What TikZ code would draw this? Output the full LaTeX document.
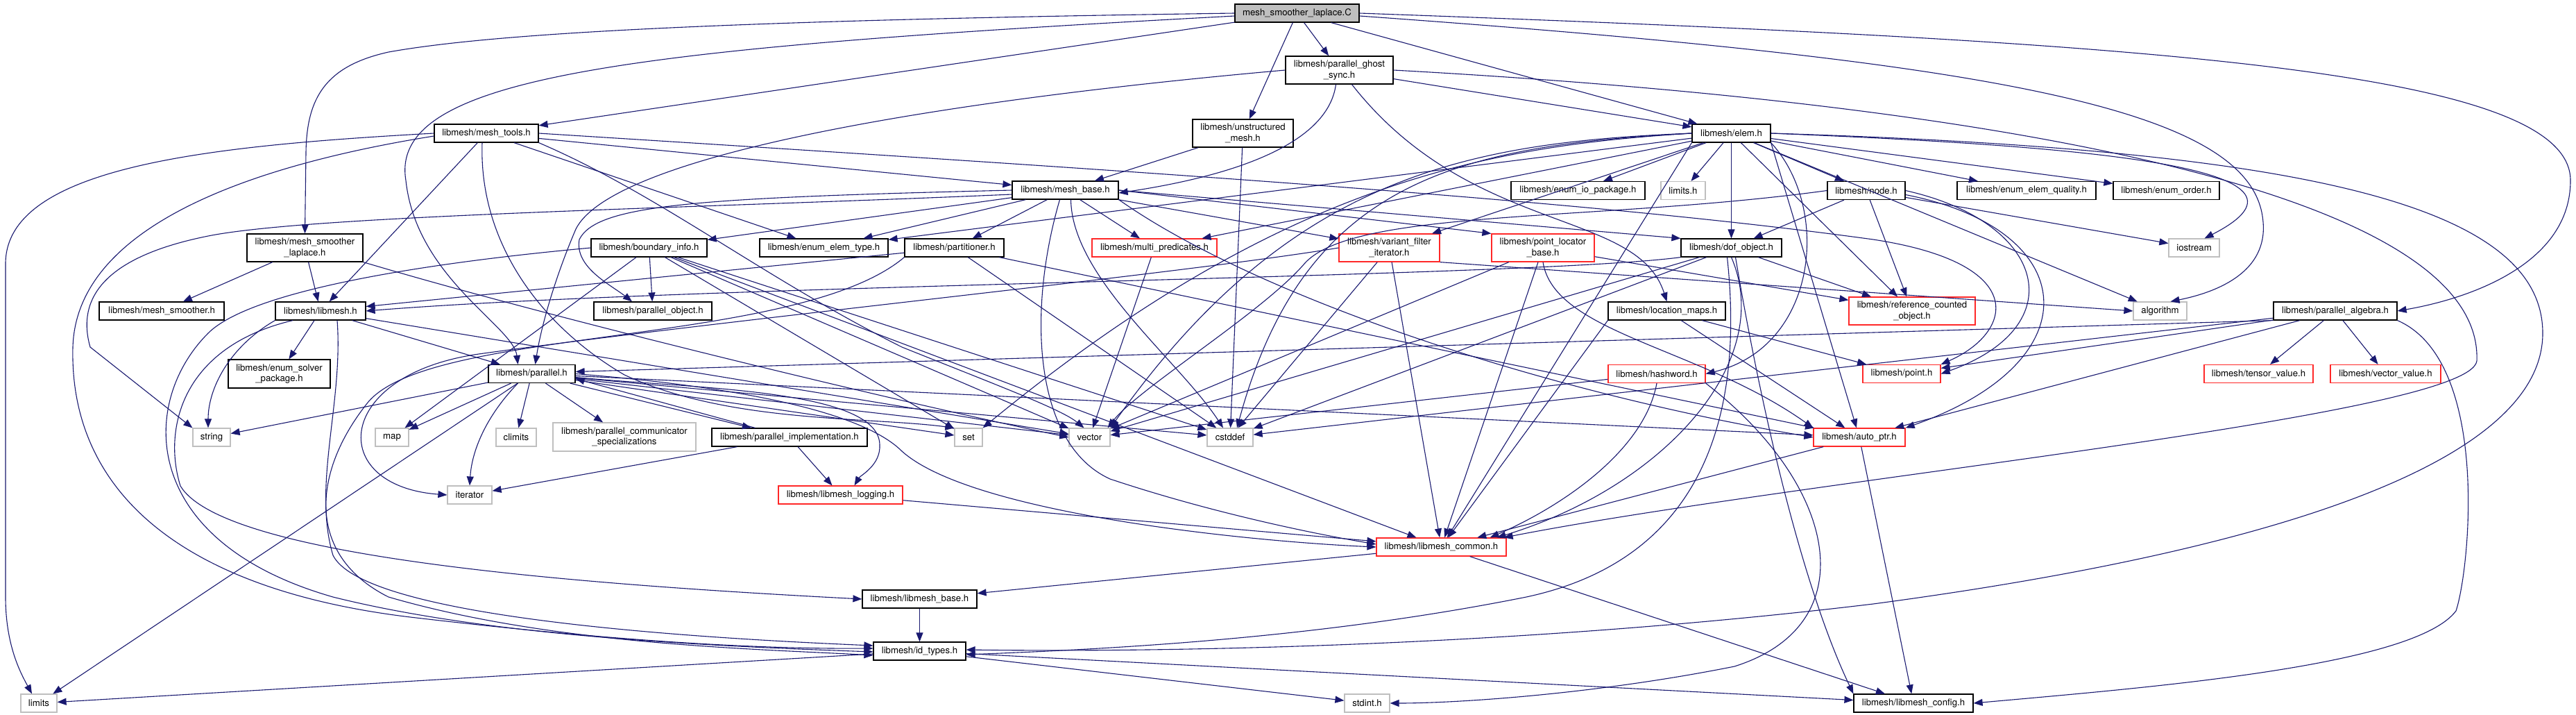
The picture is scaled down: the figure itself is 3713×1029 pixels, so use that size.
\documentclass[tikz,border=0pt]{standalone}
\usepackage{fontspec}
\setmainfont{TeX Gyre Heros}
\usetikzlibrary{arrows.meta}
\definecolor{edgecol}{HTML}{191970}
\definecolor{grayb}{HTML}{BFBFBF}
\definecolor{redb}{HTML}{FF2828}
\newcommand{\nodefnt}{\fontsize{13.2}{15.5}\selectfont}
\begin{document}
\begin{tikzpicture}[x=1pt,y=-1pt,
  nb/.style={draw=black, line width=1.2pt, fill=white, inner sep=0pt, minimum height=26pt, font=\nodefnt},
  nr/.style={nb, draw=redb},
  ng/.style={nb, draw=grayb},
  two/.style={minimum height=40pt, align=center},
  e/.style={draw=edgecol, line width=1.1pt, -{Triangle[length=13pt,width=10pt]}}]
\useasboundingbox (0,0) rectangle (3713,1029);
\fill[white] (0,0) rectangle (3713,1029);

% ---------------- nodes ----------------
\node[nb, fill=grayb, minimum width=179pt] (cfile) at (1869.5,19) {mesh\_smoother\_laplace.C};
\node[nb, two, minimum width=155pt] (pgs) at (1930.5,101) {libmesh/parallel\_ghost\\\_sync.h};
\node[nb, two, minimum width=145pt] (unst) at (1791.5,192) {libmesh/unstructured\\\_mesh.h};
\node[nb, minimum width=150pt] (mtools) at (701,192) {libmesh/mesh\_tools.h};
\node[nb, minimum width=113pt] (elem) at (2495.5,192) {libmesh/elem.h};
\node[nb, minimum width=153pt] (mbase) at (1535.5,274) {libmesh/mesh\_base.h};
\node[nb, two, minimum width=167pt] (mslh) at (439.5,357) {libmesh/mesh\_smoother\\\_laplace.h};
\node[nb, minimum width=167pt] (binfo) at (935.5,357) {libmesh/boundary\_info.h};
\node[nb, minimum width=185pt] (eet) at (1187.5,357) {libmesh/enum\_elem\_type.h};
\node[nb, minimum width=143pt] (part) at (1375.5,357) {libmesh/partitioner.h};
\node[nr, minimum width=180pt] (mpred) at (1664,357) {libmesh/multi\_predicates.h};
\node[nr, two, minimum width=145pt] (vfi) at (2002.5,357) {libmesh/variant\_filter\\\_iterator.h};
\node[nr, two, minimum width=148pt] (plb) at (2224,357) {libmesh/point\_locator\\\_base.h};
\node[nb, minimum width=145pt] (dof) at (2495.5,357) {libmesh/dof\_object.h};
\node[nb, minimum width=193pt] (eio) at (2274.5,274.5) {libmesh/enum\_io\_package.h};
\node[ng, minimum width=64pt] (limitsh) at (2426,274.5) {limits.h};
\node[nb, minimum width=112pt] (node) at (2690,274.5) {libmesh/node.h};
\node[nb, minimum width=200pt] (eeq) at (2921,274.5) {libmesh/enum\_elem\_quality.h};
\node[nb, minimum width=153pt] (eord) at (3122.5,274.5) {libmesh/enum\_order.h};
\node[ng, minimum width=73pt] (iostream) at (3162.5,357) {iostream};
\node[nr, two, minimum width=182pt] (refc) at (2756,448) {libmesh/reference\_counted\\\_object.h};
\node[ng, minimum width=77pt] (algorithm) at (3113.5,448) {algorithm};
\node[nb, minimum width=178pt] (palg) at (3366,448) {libmesh/parallel\_algebra.h};
\node[nb, minimum width=169pt] (lmaps) at (2402.5,448) {libmesh/location\_maps.h};
\node[nb, minimum width=130pt] (libmeshh) at (462,448) {libmesh/libmesh.h};
\node[nb, minimum width=180pt] (msmoother) at (233,448) {libmesh/mesh\_smoother.h};
\node[nb, minimum width=170pt] (pobj) at (941,448) {libmesh/parallel\_object.h};
\node[nb, two, minimum width=147pt, minimum height=41pt] (esp) at (402.5,538.5) {libmesh/enum\_solver\\\_package.h};
\node[nb, minimum width=125pt] (parallel) at (766.5,538.5) {libmesh/parallel.h};
\node[ng, minimum width=54pt] (string) at (305,630) {string};
\node[ng, minimum width=48pt] (map) at (565,630) {map};
\node[ng, minimum width=58pt] (climits) at (744,630) {climits};
\node[ng, two, minimum width=206pt, minimum height=41pt] (pcs) at (900,629.5) {libmesh/parallel\_communicator\\\_specializations};
\node[nb, minimum width=224pt] (pimpl) at (1138,630) {libmesh/parallel\_implementation.h};
\node[ng, minimum width=40pt] (set) at (1396,630) {set};
\node[ng, minimum width=59pt] (vector) at (1570.5,630) {vector};
\node[ng, minimum width=66pt] (cstddef) at (1773,630) {cstddef};
\node[nr, minimum width=140pt] (hashword) at (2388,538.5) {libmesh/hashword.h};
\node[nr, minimum width=132pt] (autoptr) at (2680,630) {libmesh/auto\_ptr.h};
\node[nr, minimum width=112pt] (point) at (2741,538.5) {libmesh/point.h};
\node[nr, minimum width=157pt] (tensor) at (3255.5,538.5) {libmesh/tensor\_value.h};
\node[nr, minimum width=159pt] (vecval) at (3438.5,538.5) {libmesh/vector\_value.h};
\node[ng, minimum width=64pt] (iterator) at (677,713) {iterator};
\node[nr, minimum width=179pt] (logging) at (1211.5,713) {libmesh/libmesh\_logging.h};
\node[nr, minimum width=187pt] (common) at (2077.5,788) {libmesh/libmesh\_common.h};
\node[nb, minimum width=165pt] (lbase) at (1325.5,863) {libmesh/libmesh\_base.h};
\node[nb, minimum width=133pt] (idtypes) at (1325.5,938) {libmesh/id\_types.h};
\node[ng, minimum width=52pt] (limits) at (56,1013) {limits};
\node[ng, minimum width=65pt] (stdint) at (1970.5,1013) {stdint.h};
\node[nb, minimum width=172pt] (config) at (2758,1013) {libmesh/libmesh\_config.h};

% ---------------- edges ----------------
% mesh_smoother_laplace.C
\draw[e] (cfile.west) .. controls (1000,30) and (700,50) .. (560,75) .. controls (470,95) and (442,140) .. (441,220) -- (mslh.north);
\draw[e] (cfile) -- (mtools);
\draw[e] (cfile) -- (unst);
\draw[e] (cfile) -- (pgs);
\draw[e] (cfile) -- (elem);
\draw[e] ([yshift=-4pt]cfile.west) .. controls (900,70) and (560,110) .. (585,260) .. controls (600,400) and (740,470) .. ([xshift=-20pt]parallel.north);
\draw[e] (cfile.east) .. controls (3100,60) and (3705,100) .. (3705,260) .. controls (3705,380) and (3560,430) .. (palg.east);
\draw[e] ([yshift=-4pt]cfile.east) .. controls (2900,90) and (3250,160) .. (3262,320) .. controls (3268,390) and (3200,420) .. ([xshift=15pt]algorithm.north);

% parallel_ghost_sync.h
\draw[e] (pgs) -- (elem);
\draw[e] (pgs.west) .. controls (1300,150) and (880,230) .. (830,330) .. controls (800,400) and (780,470) .. ([xshift=5pt]parallel.north);
\draw[e] ([xshift=-5pt]pgs.south) .. controls (1915,200) and (1800,250) .. ([yshift=-4pt]mbase.east);
\draw[e] ([xshift=18pt]pgs.south) .. controls (2120,340) and (2360,300) .. (lmaps.north);
\draw[e] (pgs.east) .. controls (2900,150) and (3580,280) .. (3570,520) .. controls (3560,600) and (2600,690) .. ([xshift=-4pt]common.north east);

% unstructured_mesh.h
\draw[e] (unst) -- (mbase);
\draw[e] (unst) -- (cstddef);

% mesh_smoother_laplace.h
\draw[e] (mslh) -- (msmoother);
\draw[e] (mslh) -- (libmeshh);
\draw[e] (mslh.south east) .. controls (800,460) and (1300,580) .. (vector.west);

% mesh_tools.h
\draw[e] (mtools.west) .. controls (300,210) and (8,240) .. (8,380) -- (8,860) .. controls (8,930) and (30,970) .. ([xshift=-10pt]limits.north);
\draw[e] ([yshift=-4pt]mtools.west) .. controls (350,240) and (110,330) .. (105,500) .. controls (100,700) and (250,850) .. (600,890) .. controls (900,925) and (1100,935) .. ([yshift=4pt]idtypes.west);
\draw[e] (mtools) -- (libmeshh);
\draw[e] ([xshift=-6pt]mtools.south) .. controls (690,350) and (780,470) .. (900,540) .. controls (1050,610) and (1250,600) .. (set.north west);
\draw[e] (mtools.south east) .. controls (950,280) and (1100,400) .. (1300,500) .. controls (1450,560) and (1530,590) .. ([xshift=-8pt]vector.north);
\draw[e] (mtools) -- (eet);
\draw[e] (mtools) -- (mbase);
\draw[e] (mtools.east) .. controls (1700,250) and (2300,290) .. (2700,345) .. controls (2930,380) and (2900,480) .. (point.north east);

% elem.h
\draw[e] (elem.south west) -- (common);
\draw[e] (elem) -- (dof);
\draw[e] (elem.east) .. controls (3300,215) and (3665,290) .. (3665,480) .. controls (3665,660) and (3300,790) .. (2700,870) .. controls (2200,930) and (1700,940) .. ([yshift=2pt]idtypes.east);
\draw[e] (elem) -- (refc);
\draw[e] (elem) -- (node);
\draw[e] (elem) -- (eet);
\draw[e] (elem) -- (eeq);
\draw[e] (elem) -- (eord);
\draw[e] (elem) -- (eio);
\draw[e] (elem.south east) -- (autoptr);
\draw[e] (elem) -- (mpred);
\draw[e] (elem) -- (vfi);
\draw[e] (elem) -- (algorithm);
\draw[e] (elem.west) .. controls (2100,210) and (1880,260) .. ([xshift=10pt]cstddef.north);
\draw[e] (elem.east) .. controls (3000,210) and (3380,240) .. ([xshift=15pt]iostream.north);
\draw[e] (elem) -- (limitsh);
\draw[e] (elem.west) .. controls (2150,210) and (1850,260) .. (set.north east);
\draw[e] (elem.west) .. controls (2120,205) and (1860,250) .. (vector.north east);
\draw[e] (elem.south east) .. controls (2640,300) and (2620,500) .. (hashword.east);

% mesh_base.h
\draw[e] (mbase) -- (binfo);
\draw[e] (mbase.east) -- (dof.north west);
\draw[e] (mbase) -- (eet);
\draw[e] ([xshift=-8pt]mbase.south) .. controls (1480,450) and (1490,640) .. (1600,690) .. controls (1750,740) and (1900,770) .. ([yshift=4pt]common.west);
\draw[e] (mbase) -- (mpred);
\draw[e] (mbase) -- (part);
\draw[e] (mbase.east) -- (plb.north west);
\draw[e] (mbase) -- (vfi);
\draw[e] (mbase.west) .. controls (1000,285) and (860,295) .. (835,345) .. controls (828,385) and (880,410) .. ([xshift=-30pt]pobj.north);
\draw[e] ([xshift=8pt]mbase.south) .. controls (1545,400) and (1700,520) .. ([xshift=-10pt]cstddef.north);
\draw[e] ([yshift=-6pt]mbase.west) .. controls (1000,300) and (450,310) .. (300,340) .. controls (150,370) and (110,430) .. (130,500) -- (string.north west);
\draw[e] (mbase.south east) .. controls (1800,420) and (2200,560) .. (autoptr.west);

% boundary_info.h
\draw[e] (binfo) -- (map);
\draw[e] (binfo) -- (pobj);
\draw[e] (binfo) -- (set);
\draw[e] (binfo) -- (vector);
\draw[e] (binfo) -- (cstddef);
\draw[e] (binfo) -- (common);
\draw[e] (binfo.west) .. controls (600,380) and (360,420) .. (300,480) .. controls (200,580) and (200,780) .. (480,860) .. controls (700,915) and (1000,930) .. ([yshift=-1pt]idtypes.west);

% partitioner.h
\draw[e] (part) -- (libmeshh);
\draw[e] (part.south west) .. controls (1150,500) and (620,470) .. (530,580) .. controls (450,680) and (440,800) .. (560,860) .. controls (800,930) and (1100,935) .. ([yshift=-6pt]idtypes.west);
\draw[e] (part) -- (cstddef);
\draw[e] (part) -- (autoptr);

% multi_predicates.h
\draw[e] (mpred) -- (vector);

% variant_filter_iterator.h
\draw[e] (vfi.west) .. controls (1700,395) and (1050,460) .. (690,510) .. controls (480,540) and (470,700) .. (iterator.west);
\draw[e] (vfi) -- (common);
\draw[e] (vfi) -- (cstddef);
\draw[e] (vfi.south east) -- (algorithm.west);

% point_locator_base.h
\draw[e] (plb) -- (refc);
\draw[e] (plb) -- (common);
\draw[e] (plb.south) .. controls (2240,480) and (2450,500) .. (autoptr.north west);
\draw[e] (plb) -- (vector);

% dof_object.h
\draw[e] (dof.south west) .. controls (2200,400) and (1000,410) .. (libmeshh.east);
\draw[e] ([xshift=-6pt]dof.south) .. controls (2510,560) and (2480,800) .. (2200,860) .. controls (1900,920) and (1600,935) .. ([yshift=-5pt]idtypes.east);
\draw[e] (dof.south) .. controls (2560,520) and (2400,700) .. ([xshift=-14pt]common.north east);
\draw[e] (dof) -- (refc);
\draw[e] ([xshift=6pt]dof.south) .. controls (2540,600) and (2600,850) .. (config.north west);
\draw[e] (dof) -- (cstddef);
\draw[e] (dof) -- (vector);

% node.h
\draw[e] (node) -- (dof);
\draw[e] (node) -- (refc);
\draw[e] (node) -- (iostream);
\draw[e] (node.east) .. controls (2950,320) and (2990,470) .. (point.east);
\draw[e] ([yshift=-6pt]node.east) .. controls (3000,330) and (3020,520) .. (autoptr.north east);
\draw[e] (node.west) .. controls (2300,320) and (1950,300) .. (1880,380) .. controls (1820,450) and (1640,560) .. ([xshift=-4pt]vector.north east);

% hashword.h
\draw[e] (hashword.south) .. controls (2370,650) and (2250,730) .. ([xshift=-24pt]common.north east);
\draw[e] (hashword.south east) .. controls (2650,700) and (2690,900) .. (2500,960) .. controls (2300,1000) and (2100,1013) .. (stdint.east);
\draw[e] (hashword) -- (vector);

% auto_ptr.h
\draw[e] (autoptr) -- (common);
\draw[e] (autoptr) -- (config);

% location_maps.h
\draw[e] (lmaps.south west) -- (common);
\draw[e] (lmaps) -- (point);
\draw[e] (lmaps) -- (autoptr);

% parallel.h
\draw[e] (parallel) -- (string);
\draw[e] (parallel) -- (map);
\draw[e] (parallel) -- (climits);
\draw[e] (parallel) -- (pcs);
\draw[e] (parallel) -- (pimpl);
\draw[e] ([xshift=-20pt]parallel.south) .. controls (700,600) and (680,650) .. (iterator.north);
\draw[e] (parallel) -- (limits);
\draw[e] (parallel) -- (set);
\draw[e] (parallel) -- (vector);
\draw[e] (parallel) -- (cstddef);
\draw[e] (parallel) -- (autoptr);
\draw[e] (parallel.east) .. controls (1100,560) and (1250,600) .. (1300,650) .. controls (1400,740) and (1800,780) .. (common.west);
\draw[e] ([yshift=-5pt]parallel.east) .. controls (1000,560) and (1265,560) .. (1268,640) .. controls (1270,670) and (1240,685) .. ([xshift=20pt]logging.north);

% parallel_implementation.h
\draw[e] (pimpl) -- ([yshift=-7pt]parallel.east);
\draw[e] (pimpl) -- (logging);
\draw[e] (pimpl) -- (iterator);

% parallel_algebra.h
\draw[e] (palg.south west) -- ([yshift=3pt]parallel.east);
\draw[e] (palg) -- (point);
\draw[e] (palg) -- (autoptr);
\draw[e] (palg) -- (cstddef);
\draw[e] (palg) -- (tensor);
\draw[e] (palg) -- (vecval);
\draw[e] (palg.south east) .. controls (3590,520) and (3560,820) .. (3540,880) .. controls (3480,960) and (3100,990) .. (config.east);

% lower part
\draw[e] (logging) -- (common);
\draw[e] (common) -- (lbase);
\draw[e] (common) -- (config);
\draw[e] (lbase) -- (idtypes);
\draw[e] (idtypes) -- (limits);
\draw[e] (idtypes) -- (stdint);
\draw[e] (idtypes) -- (config);

% libmesh.h
\draw[e] (libmeshh) -- (esp);
\draw[e] (libmeshh.south west) .. controls (330,500) and (300,560) .. ([xshift=-5pt]string.north);
\draw[e] (libmeshh) -- (parallel);
\draw[e] ([xshift=-40pt]libmeshh.south) .. controls (260,500) and (235,620) .. (260,700) .. controls (320,800) and (800,840) .. (lbase.west);
\draw[e] ([xshift=24pt]libmeshh.south) .. controls (495,580) and (450,700) .. (480,800) .. controls (520,880) and (900,915) .. ([yshift=8pt]idtypes.west);
\draw[e] (libmeshh) -- (vector);
\end{tikzpicture}
\end{document}
